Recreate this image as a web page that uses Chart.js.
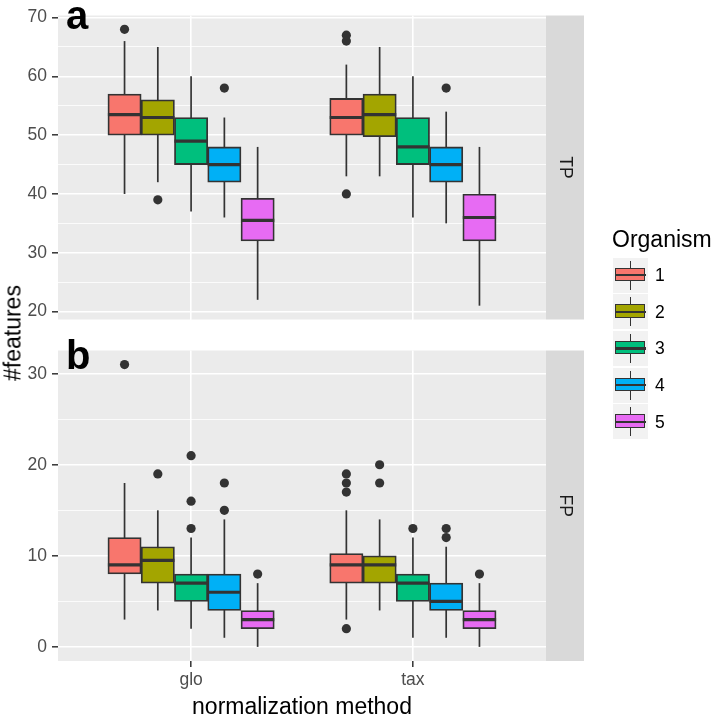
<!DOCTYPE html>
<html>
<head>
<meta charset="utf-8">
<script src="https://cdn.jsdelivr.net/npm/chart.js@4.4.1/dist/chart.umd.min.js"></script>
<style>
  html, body { margin: 0; padding: 0; background: #fff; }
  body { width: 714px; height: 717px; overflow: hidden; position: relative; font-family: "Liberation Sans", Arial, sans-serif; }
  canvas { position: absolute; left: 0; }
  #tp { top: 0; }
  #fp { top: 335px; }
  #ytitle { position: absolute; left: 13px; top: 333px; transform: translate(-50%, -50%) rotate(-90deg); font-size: 23px; white-space: nowrap; color: #000; }
  #legend { position: absolute; left: 0; top: 0; }
  .ltitle { position: absolute; left: 612px; top: 226px; font-size: 23px; line-height: 27px; color: #000; white-space: nowrap; }
  .key { position: absolute; left: 613px; width: 35px; height: 35px; background: #f2f2f2; }
  .key .wh { position: absolute; left: 16.7px; top: 3px; width: 1.6px; height: 29px; background: #333; }
  .key .bx { position: absolute; left: 2px; top: 10px; width: 27.6px; height: 11.6px; border: 1.7px solid #333; }
  .key .md { position: absolute; left: 2px; top: 16.5px; width: 31px; height: 2.2px; background: #333; }
  .lab { position: absolute; left: 655px; font-size: 17.5px; line-height: 20px; color: #000; }
</style>
</head>
<body>
<canvas id="tp" width="714" height="335"></canvas>
<canvas id="fp" width="714" height="386"></canvas>
<div id="ytitle">#features</div>
<div id="legend"></div>
<script>
// categories
const methods = ['glo', 'tax'];
const organisms = ['1', '2', '3', '4', '5'];
const fills = ['#F8766D', '#A3A500', '#00BF7D', '#00B0F6', '#E76BF3'];

// TP panel, [organism][method]
const tpLow = [[40, 43], [42, 43], [37, 36], [36, 35], [22, 21]];
const tpQ1 = [[50, 50], [50, 49.75], [45, 45], [42, 42], [32, 32]];
const tpMedian = [[53.5, 53], [53, 53.5], [49, 48], [45, 45], [35.5, 36]];
const tpQ3 = [[57, 56.25], [56, 57], [53, 53], [48, 48], [39.25, 40]];
const tpHigh = [[66, 62], [65, 65], [60, 60], [53, 54], [48, 48]];
const tpOutliers = [[[68], [66, 67, 40]], [[39], []], [[], []], [[58], [58]], [[], []]];

// FP panel, [organism][method]
const fpLow = [[3, 3], [4, 4], [2, 1], [1, 1], [0, 0]];
const fpQ1 = [[8, 7], [7, 7], [5, 5], [4, 4], [2, 2]];
const fpMedian = [[9, 9], [9.5, 9], [7, 7], [6, 5], [3, 3]];
const fpQ3 = [[12, 10.25], [11, 10], [8, 8], [8, 7], [4, 4]];
const fpHigh = [[18, 15], [15, 14], [12, 12], [14, 11], [7, 7]];
const fpOutliers = [[[31], [17, 18, 19, 2]], [[19], [18, 20]], [[13, 16, 21], [13]], [[15, 18], [12, 13]], [[8], [8]]];

const FONT = '"Liberation Sans", Arial, sans-serif';
const dodge = organisms.map((o, g) => (g - 2) * 0.15);

function makePanel(id, p) {
  const datasets = [];
  organisms.forEach((org, g) => {
    datasets.push({
      type: 'bar',
      label: org,
      data: methods.map((m, k) => ({ x: k + 1 + dodge[g], y: [p.q1[g][k], p.q3[g][k]] })),
      backgroundColor: fills[g],
      borderColor: '#333333',
      borderWidth: 1.8,
      borderSkipped: false,
      grouped: false,
      barPercentage: 1,
      categoryPercentage: 1,
      order: 2
    });
  });
  organisms.forEach((org, g) => {
    const pts = [];
    methods.forEach((m, k) => p.out[g][k].forEach(v => pts.push({ x: k + 1 + dodge[g], y: v })));
    datasets.push({
      type: 'scatter',
      data: pts,
      pointRadius: 4.6,
      pointBackgroundColor: '#333333',
      pointBorderWidth: 0,
      order: 0
    });
  });

  const panelParts = {
    id: 'panelParts',
    beforeDraw(chart) {
      const { ctx, chartArea: a } = chart;
      ctx.save();
      ctx.fillStyle = '#EBEBEB';
      ctx.fillRect(a.left, a.top, a.right - a.left, a.bottom - a.top);
      // facet strip
      ctx.fillStyle = '#D9D9D9';
      ctx.fillRect(a.right, a.top, 38, a.bottom - a.top);
      ctx.translate(a.right + 19, (a.top + a.bottom) / 2);
      ctx.rotate(Math.PI / 2);
      ctx.fillStyle = '#1A1A1A';
      ctx.font = '17.5px ' + FONT;
      ctx.textAlign = 'center';
      ctx.textBaseline = 'middle';
      ctx.fillText(p.strip, 0, 0);
      ctx.restore();
    },
    beforeDatasetsDraw(chart) {
      const { ctx } = chart;
      const ys = chart.scales.y;
      ctx.save();
      ctx.strokeStyle = '#333333';
      ctx.lineWidth = 1.7;
      organisms.forEach((o, g) => {
        chart.getDatasetMeta(g).data.forEach((el, k) => {
          ctx.beginPath();
          ctx.moveTo(el.x, ys.getPixelForValue(p.low[g][k]));
          ctx.lineTo(el.x, ys.getPixelForValue(p.high[g][k]));
          ctx.stroke();
        });
      });
      ctx.restore();
    },
    afterDatasetsDraw(chart) {
      const { ctx } = chart;
      const ys = chart.scales.y;
      ctx.save();
      ctx.strokeStyle = '#333333';
      ctx.lineWidth = 3.2;
      organisms.forEach((o, g) => {
        chart.getDatasetMeta(g).data.forEach((el, k) => {
          const y = ys.getPixelForValue(p.median[g][k]);
          ctx.beginPath();
          ctx.moveTo(el.x - el.width / 2, y);
          ctx.lineTo(el.x + el.width / 2, y);
          ctx.stroke();
        });
      });
      // panel tag
      ctx.fillStyle = '#000';
      ctx.font = 'bold 40px ' + FONT;
      ctx.textAlign = 'left';
      ctx.textBaseline = 'alphabetic';
      ctx.fillText(p.tag, chart.chartArea.left + 8, p.tagY);
      ctx.restore();
    }
  };

  const tickFont = { family: FONT, size: 17.5 };
  return new Chart(document.getElementById(id), {
    type: 'bar',
    data: { datasets },
    plugins: [panelParts],
    options: {
      responsive: false,
      animation: false,
      devicePixelRatio: 1,
      layout: { padding: { left: 0, right: 168, top: p.padTop, bottom: p.padBottom } },
      plugins: { legend: { display: false }, tooltip: { enabled: false } },
      scales: {
        x: {
          type: 'linear',
          min: 0.4,
          max: 2.6,
          offset: false,
          afterFit: s => { s.height = p.showX ? 60 : 0; },
          border: { display: false },
          grid: { offset: false, color: '#ffffff', lineWidth: 1.6, drawTicks: p.showX, tickLength: 6, tickColor: '#333333', tickWidth: 1.5 },
          ticks: {
            display: p.showX, stepSize: 1, includeBounds: false, autoSkip: false, maxRotation: 0,
            padding: 3, color: '#4D4D4D', font: tickFont,
            callback: v => methods[v - 1] || ''
          },
          title: { display: p.showX, text: 'normalization method', color: '#000', font: { family: FONT, size: 23 }, padding: 0 }
        },
        y: {
          min: p.min,
          max: p.max,
          afterFit: s => { s.width = 58; },
          border: { display: false },
          grid: {
            color: '#ffffff',
            lineWidth: c => (c.tick && c.tick.value % 10 === 0) ? 1.6 : 0.8,
            tickLength: 6,
            tickColor: c => (c.tick && c.tick.value % 10 === 0) ? '#333333' : 'rgba(0,0,0,0)',
            tickWidth: 1.5
          },
          ticks: {
            stepSize: 5, includeBounds: false, autoSkip: false, padding: 5,
            color: '#4D4D4D', font: tickFont,
            callback: v => v % 10 === 0 ? String(v) : ''
          }
        }
      }
    }
  });
}

makePanel('tp', {
  low: tpLow, q1: tpQ1, median: tpMedian, q3: tpQ3, high: tpHigh, out: tpOutliers,
  min: 18.65, max: 70.35, strip: 'TP', tag: 'a', tagY: 29,
  padTop: 7, padBottom: 7, showX: false
});
makePanel('fp', {
  low: fpLow, q1: fpQ1, median: fpMedian, q3: fpQ3, high: fpHigh, out: fpOutliers,
  min: -1.55, max: 32.55, strip: 'FP', tag: 'b', tagY: 34,
  padTop: 5, padBottom: 0, showX: true
});

// legend
const legend = document.getElementById('legend');
let html = '<div class="ltitle">Organism</div>';
organisms.forEach((org, g) => {
  const c = 275 + g * 36.7;
  html += '<div class="key" style="top:' + (c - 17.5) + 'px"><div class="wh"></div>' +
    '<div class="bx" style="background:' + fills[g] + '"></div><div class="md"></div></div>' +
    '<div class="lab" style="top:' + (c - 10) + 'px">' + org + '</div>';
});
legend.innerHTML = html;
</script>
</body>
</html>
